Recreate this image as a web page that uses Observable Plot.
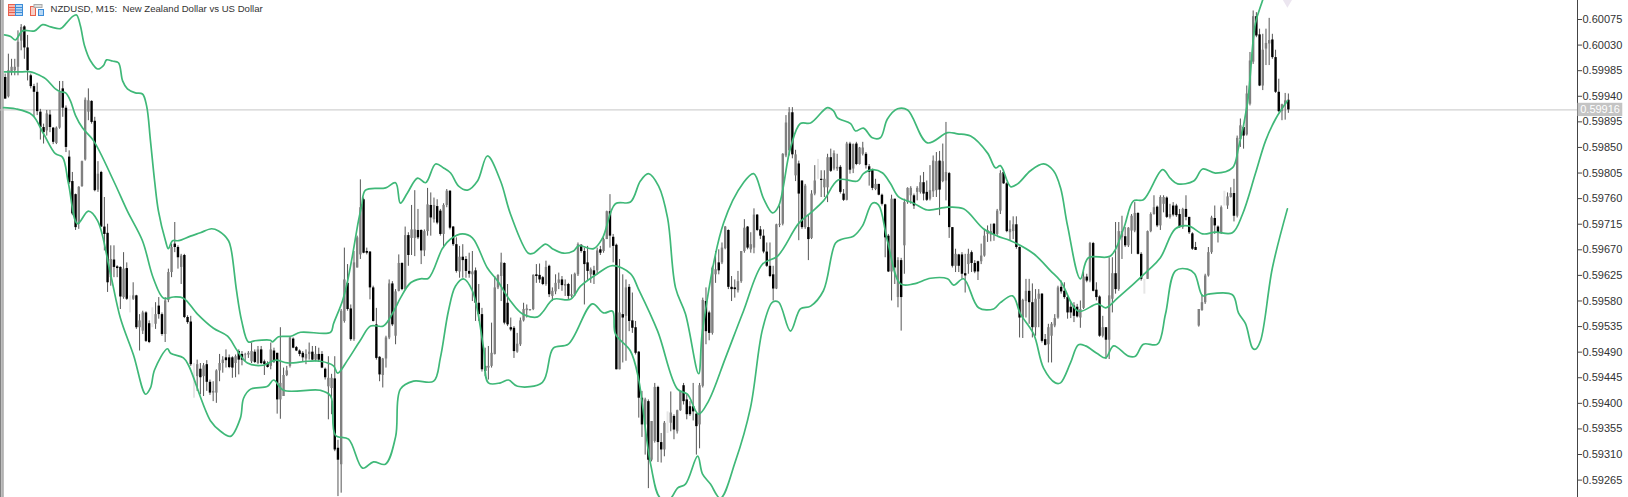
<!DOCTYPE html>
<html><head><meta charset="utf-8">
<script src="https://cdn.jsdelivr.net/npm/d3@7"></script>
<script src="https://cdn.jsdelivr.net/npm/@observablehq/plot@0.6"></script>
<style>
html,body{margin:0;padding:0;background:#fff;overflow:hidden}
#wrap{position:relative;width:1628px;height:497px}
#icons{position:absolute;left:8px;top:4px}
svg{display:block}
</style></head><body>
<div id="wrap"><div id="chart"></div>
<svg id="icons" width="40" height="13" viewBox="0 0 40 13">
<rect x="0.5" y="0.5" width="7" height="11" fill="#f8b8b0" stroke="#e8604c"/><path d="M1 3.5h6M1 6h6M1 8.5h6" stroke="#e8604c"/>
<rect x="7.5" y="0.5" width="7" height="11" fill="#b8d8f4" stroke="#3c8cd8"/><path d="M8 3.5h6M8 6h6M8 8.5h6" stroke="#3c8cd8"/>
<rect x="22.5" y="2.5" width="5" height="9" fill="#f8d0c8" stroke="#e8604c"/><rect x="30.5" y="5.5" width="5" height="6" fill="#b8d8f4" stroke="#3c8cd8"/>
<rect x="26" y="0.5" width="8" height="3" fill="#ddd" stroke="#aaa"/>
</svg></div>
<script>
const titleText = "NZDUSD, M15:  New Zealand Dollar vs US Dollar";
const lastPrice = 59916;
const tickLabels = [60075,60030,59985,59940,59895,59850,59805,59760,59715,59670,59625,59580,59535,59490,59445,59400,59355,59310,59265];

// candle values in 1/100000 of a dollar, one entry per M15 bar
const highs = [
59979,60014,60005,60005,60055,60066,60064,60047,59979,59961,
59963,59917,59891,59915,59915,59885,59886,59966,59966,59923,
59844,59806,59768,59781,59826,59937,59953,59932,59903,59825,
59808,59762,59715,59677,59677,59642,59640,59665,59647,null,
59612,59590,59556,59562,59561,59545,null,59577,59586,59559,
59586,59636,59680,59718,59677,59662,59662,59554,59553,null,
59476,59470,59470,59475,59441,59438,59459,59486,59482,59494,
59485,59482,59485,59494,59491,59488,59491,59506,59494,59500,
59500,59476,59473,59506,59497,59488,59533,59462,59465,59517,
59515,59500,59494,59491,59494,59506,59500,59500,59497,59491,
59462,59482,59451,59482,59335,59565,59673,59644,59573,59667,
59694,59793,59761,59673,59667,59606,59567,59482,59479,59518,
59617,59614,59600,59661,59647,59710,59700,59748,59774,59741,
59705,59705,59778,59770,59761,59758,59741,59751,59776,59774,
59711,59691,59676,59679,59658,59664,59667,59638,59609,59567,
59497,59500,59541,59623,59626,59664,59647,59609,59550,59535,
59523,59550,59576,59573,59565,59626,59644,59645,59623,59650,
59643,59603,59626,59629,59623,59617,59611,59626,59629,59682,
59679,59673,59676,59638,59641,59673,59676,59691,59738,59767,
59697,59680,59653,59626,59617,59609,59594,59544,59491,59421,
59409,59406,59368,59435,59430,59347,59368,null,59420,59380,
59388,59421,59435,59415,59403,59435,59383,59435,59585,59603,
59562,59641,59667,59670,59682,59711,59705,59623,59617,59632,
59667,59723,59711,59700,59742,59732,59711,59705,59682,59682,
59641,59715,59747,59839,59906,59920,59920,59845,59826,59791,
59785,59732,59774,59818,null,59809,59809,59838,59847,59844,
59838,59818,59776,59859,59859,59856,59859,59850,59859,59841,
59820,59812,59794,59785,59768,59750,59697,59766,59759,59656,
59655,59759,59779,59781,59768,59781,59800,59806,59791,59818,
59835,59841,59843,59856,59894,59806,59709,59671,59662,59665,
59662,59671,59668,59651,59650,59680,59706,59712,59715,59716,
59741,59809,59810,59788,59721,59728,59728,59675,59583,59618,
59618,59610,59600,59600,59593,59521,59539,59542,59556,59606,
59615,59612,59589,59577,59577,59574,59580,59633,59627,59683,
59683,59612,59589,59553,59533,59656,59656,59718,59718,59729,
59709,59709,59732,59753,59735,59665,null,59703,59735,59765,
59747,59765,59765,59763,59750,59753,59750,59741,59743,59765,
59727,59700,59683,59565,59591,59627,59674,59729,59747,59712,
59747,null,59770,59779,59794,59870,59900,59888,59958,60017,
60090,60087,60058,60049,60058,60077,60049,60021,59970,59926,
59945,59944];
const opens = [
59973,59939,59982,59985,59991,60037,60062,60025,59976,59957,
59947,59912,59885,59879,59907,59884,59857,59884,59953,59919,
59833,59790,59767,59715,59781,59828,59912,59931,59896,59775,
59806,59710,59699,59621,59652,59640,59639,59586,59637,null,
59583,59589,59533,59527,59559,59540,null,59539,59571,59556,
59521,59581,59630,59680,59674,59639,59660,59551,59543,null,
59447,59460,59447,59468,59437,59418,59418,59457,59470,59480,
59480,59480,59470,59491,59486,59484,59485,59473,59490,59470,
59494,59473,59470,59465,59492,59488,59406,59412,59449,59465,
59513,59498,59492,59488,59478,59486,59490,59476,59486,59486,
59460,59429,59426,59443,59321,59292,59544,59611,59566,59512,
59638,59661,59758,59667,59666,59603,59538,59481,59449,59478,
59515,59610,59518,59597,59646,59600,59695,59690,59690,59704,
59704,59668,59702,59748,59723,59746,59738,59697,59748,59773,
59710,59679,59631,59657,59653,59632,59626,59633,59576,59556,
59465,59462,59465,59486,59603,59623,59646,59576,59533,59532,
59490,59503,59545,59563,59563,59565,59626,59625,59621,59609,
59641,59588,59596,59611,59617,59606,59609,59588,59591,59626,
59678,59667,59647,59626,59633,59633,59670,59667,59688,59737,
59692,59678,59459,59556,59553,59604,59545,59533,59490,59409,
59362,59403,59300,59333,59428,59331,59318,null,59365,59377,
59350,59387,59431,59406,59394,59394,59381,59362,59430,59579,
59559,59523,59626,59647,59647,59672,59704,59604,59603,59598,
59614,59667,59710,59670,59673,59731,59705,59694,59666,59641,
59626,59601,59713,59715,59835,59844,59911,59800,59821,59791,
59709,59709,59690,59768,null,59794,59779,59779,59832,59812,
59812,59815,59768,59757,59856,59812,59856,59820,59838,59838,
59816,59810,59776,59785,59766,59749,59694,59631,59759,59586,
59651,59677,59753,59765,59765,59771,59771,59788,59771,59759,
59772,59774,59826,59790,59791,59804,59709,59641,59661,59661,
59628,59644,59665,59646,59649,59649,59659,59697,59696,59715,
59697,59738,59806,59786,59700,59702,59714,59674,59550,59579,
59597,59577,59533,59583,59592,59512,59503,59518,59536,59550,
59604,59597,59586,59569,59571,59569,59550,59567,59622,59615,
59681,59599,59587,59518,59533,59511,59583,59628,59600,59691,
59693,59677,59703,59703,59734,59662,null,59618,59702,59732,
59745,59712,59750,59761,59727,59747,59747,59732,59709,59741,
59727,59698,59674,59536,59563,59577,59624,59665,59725,59710,
59700,null,59747,59762,59769,59729,59864,59885,59872,59926,
60000,60080,60048,59958,60023,60032,60039,60008,59947,59913,
59925,59933];
const closes = [
59935,59985,59991,59991,60035,60061,60025,59985,59957,59947,
59913,59885,59876,59909,59885,59859,59884,59947,59919,59850,
59788,59733,59709,59780,59825,59933,59932,59894,59774,59803,
59710,59697,59612,59653,59639,59637,59587,59636,59583,null,
59589,59533,59545,59559,59509,59507,null,59556,59556,59521,
59580,59630,59674,59674,59656,59659,59551,59542,59468,null,
59468,59445,59466,59437,59418,59421,59457,59470,59476,59475,
59463,59462,59482,59476,59476,59485,59488,59491,59472,59494,
59470,59468,59463,59494,59473,59406,59435,59449,59457,59515,
59497,59492,59486,59480,59486,59490,59476,59486,59476,59462,
59445,59444,59444,59318,59300,59562,59617,59565,59512,59647,
59691,59744,59664,59664,59603,59544,59479,59450,59478,59515,
59610,59538,59596,59646,59600,59695,59660,59705,59705,59691,
59668,59702,59749,59726,59748,59717,59697,59748,59773,59708,
59679,59632,59657,59651,59632,59627,59631,59576,59556,59459,
59456,59465,59488,59603,59625,59647,59541,59538,59529,59491,
59504,59545,59565,59566,59565,59625,59623,59617,59609,59639,
59591,59597,59611,59617,59607,59609,59588,59591,59627,59679,
59667,59644,59632,59635,59625,59668,59664,59688,59737,59694,
59676,59459,59559,59550,59603,59544,59532,59488,59409,59362,
59406,59300,59368,59428,59331,59318,59365,null,59383,59353,
59387,59420,59403,59380,59380,59385,59359,59431,59581,59526,
59523,59638,59635,59633,59673,59710,59604,59600,59600,59614,
59667,59708,59673,59679,59731,59704,59694,59666,59641,59623,
59601,59714,59715,59838,59893,59911,59837,59837,59768,59709,
59782,59688,59768,59791,null,59792,59794,59832,59808,59839,
59815,59771,59757,59856,59810,59855,59820,59849,59849,59818,
59806,59778,59785,59766,59750,59691,59631,59759,59638,59651,
59586,59753,59778,59778,59747,59778,59788,59768,59757,59774,
59826,59825,59775,59825,59806,59709,59641,59662,59641,59627,
59624,59662,59646,59631,59631,59659,59694,59704,59702,59697,
59738,59804,59786,59702,59706,59714,59674,59550,59581,59597,
59577,59533,59583,59592,59509,59502,59533,59539,59549,59603,
59596,59586,59559,59559,59553,59552,59565,59622,59615,59681,
59597,59586,59518,59533,59511,59589,59628,59600,59702,59702,
59677,59708,59729,59734,59662,59618,null,59702,59732,59744,
59712,59762,59762,59727,59732,59731,59730,59709,59741,59727,
59700,59671,59669,59565,59577,59624,59665,59726,59712,59700,
59744,null,59763,59769,59729,59866,59888,59870,59944,60002,
60080,60046,59958,60021,60033,60038,60008,59947,59913,59925,
59932,59916];
const lows = [
59935,59937,59976,59976,59976,60020,60005,59967,59953,59903,
59906,59863,59856,59870,59876,59855,59855,59882,59903,59841,
59785,59730,59704,59706,59780,59826,59897,59891,59772,59771,
59709,59668,59595,59606,59621,59621,59565,59583,59581,null,
59581,59530,59492,59521,59507,59505,null,59530,59548,59518,
59507,59577,59621,59665,59636,59609,59549,59539,59465,null,
59421,59415,59412,59421,59414,59403,59400,59438,59453,59462,
59461,59444,59445,59450,59466,59473,59479,59470,59470,59468,
59468,59449,59462,59459,59470,59381,59372,59412,59447,59462,
59496,59491,59482,59473,59468,59476,59475,59473,59472,59461,
59441,59371,59380,59315,59236,59242,59541,59562,59509,59509,
59638,59653,59663,59661,59582,59543,59476,59438,59427,59462,
59512,59535,59503,59596,59598,59598,59641,59660,59658,59688,
59644,59658,59694,59694,59717,59714,59694,59672,59744,59705,
59676,59629,59620,59620,59620,59620,59579,59544,59544,59455,
59447,59441,59462,59485,59600,59579,59538,59535,59526,59479,
59488,59500,59543,59550,59562,59563,59611,59611,59607,59606,
59586,59579,59591,59600,59597,59588,59582,59585,59588,59623,
59664,59573,59614,59611,59609,59626,59660,59664,59688,59673,
59647,59459,59459,59471,59474,59526,59523,59485,59374,59340,
59309,59250,59297,59330,59296,59295,59306,null,59350,59336,
59346,59386,59397,59371,59377,59369,59309,59320,59427,59503,
59510,59520,59611,59626,59644,59670,59600,59579,59585,59594,
59611,59664,59670,59664,59663,59702,59688,59663,59639,59621,
59580,59600,59709,59712,59832,59835,59830,59790,59686,59706,
59706,59651,59688,59765,null,59762,59762,59753,59806,59809,
59808,59768,59755,59756,59803,59804,59818,59819,59835,59812,
59782,59774,59774,59765,59747,59656,59630,59580,59609,59568,
59527,59627,59750,59750,59741,59756,59768,59756,59755,59756,
59762,59762,59730,59788,59756,59690,59638,59630,59630,59618,
59594,59627,59630,59628,59616,59644,59657,59683,59684,59685,
59694,59732,59785,59700,59685,59688,59671,59515,59514,59550,
59539,59515,59518,59533,59506,59501,59471,59471,59533,59548,
59592,59583,59548,59549,59542,59550,59532,59565,59612,59612,
59596,59580,59516,59515,59477,59477,59559,59592,59597,59653,
59674,59674,59662,59700,59661,59615,null,59618,59700,59731,
59709,59704,59735,59725,59724,59728,59727,59708,59706,59721,
59697,59669,59669,59534,59562,59574,59622,59662,59697,59682,
59697,null,59741,59761,59719,59726,59850,59847,59870,59923,
59996,60043,59957,59950,59994,59994,60005,59945,59911,59897,
59898,59910];

// very pale bars
const faintIdx  = [39,46,59,207,254,356,381];
const faintHigh = [59589,59568,59470,59385,59829,59618,59773];
const faintLow  = [59559,59533,59409,59347,59794,59592,59747];

// Bollinger bands: bar position and value
const upperIdx = [-0.2,1.7,3.2,5.4,9.2,11.7,14.2,17.3,19.2,21,22.3,23.5,24.8,26.7,28.9,30.7,31.7,33.5,35.4,36.7,38.2,40.7,42.9,44.2,45.4,46.7,47.9,50.1,51,52.3,54.2,57.9,61,64.5,66.7,69.8,70.7,72.3,73.9,76,77.9,82.9,83.5,85.4,89.2,92.3,101.7,102.6,105.4,107,108.5,110.4,111.4,112.6,118.9,122,123.5,125.7,128.9,131.4,134.5,137,139.2,141.7,144.5,147.6,150.7,154.8,157.9,163.5,165.1,168.9,171,174.5,177.6,179.2,183.9,186.7,190.7,195.4,198.5,201,204.2,207,209.5,212.6,216.7,217.9,224.5,230.7,233.9,237,239.8,241.7,245.4,248.5,251.7,257,258.9,260.1,264.2,265.7,268.2,271,273.5,275.7,278.9,282,288.2,294.5,297.6,301.7,307,309.5,311,314.2,316.4,320.4,324.5,327.6,329.8,332,336,338.5,345.4,349.5,352.6,355.7,361.7,364.2,366.4,371.4,374.2,378.2,383.5,385.4,388.2,390.7,392.9,395.4];
const upperVal = [60048,60045,60039,60055,60055,60066,60062,60059,60069,60080,60083,60064,60029,60002,59988,59994,60004,60002,59999,59967,59953,59946,59944,59923,59862,59791,59738,59686,59672,59686,59686,59694,59700,59707,59703,59686,59668,59598,59545,59508,59510,59511,59508,59517,59518,59525,59525,59540,59580,59615,59659,59721,59747,59775,59779,59788,59752,59770,59796,59788,59821,59814,59805,59782,59775,59791,59835,59791,59733,59664,59664,59680,59672,59664,59668,59677,59672,59691,59751,59754,59791,59804,59782,59726,59603,59557,59452,59527,59717,59788,59804,59760,59735,59747,59849,59892,59893,59920,59914,59902,59892,59879,59884,59867,59867,59900,59918,59916,59858,59876,59874,59870,59840,59814,59818,59781,59786,59809,59821,59809,59779,59712,59619,59656,59659,59707,59756,59758,59811,59795,59786,59791,59812,59805,59814,59849,59927,60068,60108,60152];
const middleIdx = [-0.2,5.4,7.9,9.5,12.6,15.7,17.3,18.9,20.4,22,24.2,27.6,33.9,38.2,42.9,46.3,49.5,52.6,55.7,60.1,65.1,69.5,72.6,75.7,80.7,84.5,88.2,94.5,98.5,102.6,103.9,107,111,114.2,118.2,121.4,123.5,126.7,129.8,132.3,136.7,139.2,142.9,146,150.7,153.9,157.9,161.7,166.4,168.2,171.3,176.7,179.8,185.1,189.8,195.4,197.9,203.9,210.1,213.2,216.7,219.8,225.1,230.7,236.7,241.4,247.9,251.7,255.7,260.4,266.4,268.2,271.3,274.2,276.7,279.2,283.9,288.2,294.5,299.5,305.7,310.1,314.2,321.4,326.7,329.8,335.4,341.4,343.9,347.6,357,361,365.7,369.8,374.2,378.2,383.5,386.7,390.7,393.9,397,400.7];
const middleVal = [59983,59983,59983,59980,59971,59953,59948,59946,59932,59906,59884,59862,59791,59738,59686,59620,59585,59587,59585,59557,59532,59518,59492,59471,59467,59476,59471,59474,59474,59466,59453,59476,59511,59536,59536,59562,59585,59612,59619,59620,59673,59689,59698,59691,59638,59615,59580,59557,59552,59562,59583,59583,59606,59628,59642,59628,59601,59527,59425,59416,59381,59404,59480,59562,59645,59659,59716,59735,59756,59793,59791,59804,59811,59805,59786,59763,59752,59740,59745,59742,59707,59694,59686,59663,59633,59615,59562,59575,59568,59585,59633,59656,59707,59712,59698,59701,59700,59733,59804,59862,59900,59932];
const lowerIdx = [-0.5,3.2,8.5,12,15.7,17.9,19.8,22.6,26,28.9,32.9,36,40.1,43.9,45.4,46.7,50.7,51.7,55.7,57.3,64.2,67.3,70.4,73.5,74.5,76.7,82,83.9,87,98.5,101.7,103.2,107.3,111.7,115.1,118.8,122,123.5,127.6,133.9,136,138.5,140.7,143.2,146,149.5,151,154.8,157.3,160.1,167.9,171.3,176,183.5,187,189.8,190.7,195.4,197.9,201.7,204.8,207.9,210.1,212.6,216.4,217.9,220.4,223.5,228.2,232.9,236.7,239.8,241.7,245.4,248.5,251.7,255.7,259.5,261.7,265.1,267.9,271,272.9,275.7,279.8,283.9,289.2,294.5,296.4,299.5,304.2,308.9,311,314.8,317.3,321.4,324.5,328.2,329.8,332.9,335.4,337.6,341.4,343.9,346.4,351,353.2,355.7,360.1,362.6,365.7,369.5,371.7,374.2,376,383.5,385.4,387.6,389.8,390.7,392.3,396,400.7];
const lowerVal = [59920,59918,59907,59874,59839,59833,59786,59716,59738,59721,59628,59550,59485,59416,59427,59459,59496,59488,59480,59467,59369,59351,59342,59374,59409,59425,59430,59441,59423,59423,59413,59344,59337,59286,59297,59293,59341,59425,59439,59439,59480,59562,59606,59619,59598,59497,59436,59436,59441,59430,59437,59497,59504,59575,59559,59562,59522,59492,59444,59293,59233,59233,59251,59258,59307,59276,59258,59233,59298,59392,59531,59578,59578,59527,59566,59571,59598,59682,59689,59694,59712,59752,59749,59686,59610,59610,59620,59619,59608,59619,59568,59566,59577,59589,59557,59522,59462,59436,59436,59471,59503,59501,59487,59480,59501,59483,59483,59504,59504,59557,59633,59636,59628,59589,59592,59591,59559,59540,59497,59495,59510,59638,59742];
// small pale marker at the top edge
const markerIdx = 400.7, markerVal = 60110;

const E = 1e5;
const bars = d3.range(highs.length).filter(i => highs[i] != null).map(i => ({
  i, h: highs[i]/E, o: opens[i]/E, c: closes[i]/E, l: lows[i]/E, up: closes[i] >= opens[i]
}));
const band = (xs, ys) => xs.map((x, k) => ({x, y: ys[k]/E}));
const GREEN = "#3fb878", FONT = "'Liberation Sans',Arial,sans-serif";
const bandOpts = {x: "x", y: "y", stroke: GREEN, strokeWidth: 1.7, curve: "catmull-rom", clip: true};

const chart = Plot.plot({
  width: 1628, height: 497,
  marginLeft: 0, marginRight: 51, marginTop: 0, marginBottom: 0,
  style: {fontFamily: FONT, background: "#fff", overflow: "visible"},
  x: {domain: [0, 401], range: [4.67, 4.67 + 401*3.2], axis: null},
  y: {domain: [59265/E, 60075/E], range: [479.6, 19], axis: null},
  marks: [
    Plot.frame({anchor: "left", stroke: "#808080", strokeWidth: 2}),
    Plot.ruleX([-0.7], {stroke: "#a0a0a0", strokeWidth: 1.5, y1: 0.59, y2: 0.61, clip: true}),
    Plot.ruleY([lastPrice/E], {stroke: "#c6c6c6", strokeWidth: 1}),
    Plot.dot([0], {x: () => markerIdx, y: () => markerVal/E, r: 5, symbol: "diamond", fill: "#ece6f0", clip: true}),
    Plot.ruleX(faintIdx.map((i,k)=>({i, a: faintHigh[k]/E, b: faintLow[k]/E})), {x: "i", y1: "a", y2: "b", stroke: "#e6e6e6", strokeWidth: 2}),
    Plot.ruleX(bars, {x: "i", y1: "l", y2: "h", stroke: "#555", strokeWidth: 1}),
    Plot.ruleX(bars, {x: "i", y1: "o", y2: "c", stroke: d => d.up ? "#808080" : "#000", strokeWidth: 2.4}),
    Plot.line(band(upperIdx, upperVal), bandOpts),
    Plot.line(band(middleIdx, middleVal), bandOpts),
    Plot.line(band(lowerIdx, lowerVal), bandOpts),
    Plot.frame({anchor: "right", stroke: "#444", strokeWidth: 1}),
    Plot.axisY(tickLabels.map(d => d/E), {anchor: "right", tickSize: 4, tickPadding: 1, tickFormat: d => d.toFixed(5), fontSize: 11, fill: "#333", stroke: "#444", label: null}),
    Plot.rect([lastPrice/E], {x1: () => 491.5, x2: () => 505.5, y1: d => d - 6.3e-5*1.85, y2: d => d + 6.3e-5*1.85 , fill: "#c4c4c4", clip: false}),
    Plot.text([lastPrice/E], {x: () => 492.2, y: d => d, text: d => d.toFixed(5), textAnchor: "start", fill: "#fff", fontSize: 11}),
    Plot.text([titleText], {frameAnchor: "top-left", dx: 50, dy: 4.5, lineAnchor: "top", fontSize: 9.6, fill: "#333"})
  ]
});
document.getElementById("chart").appendChild(chart);
</script></body></html>
